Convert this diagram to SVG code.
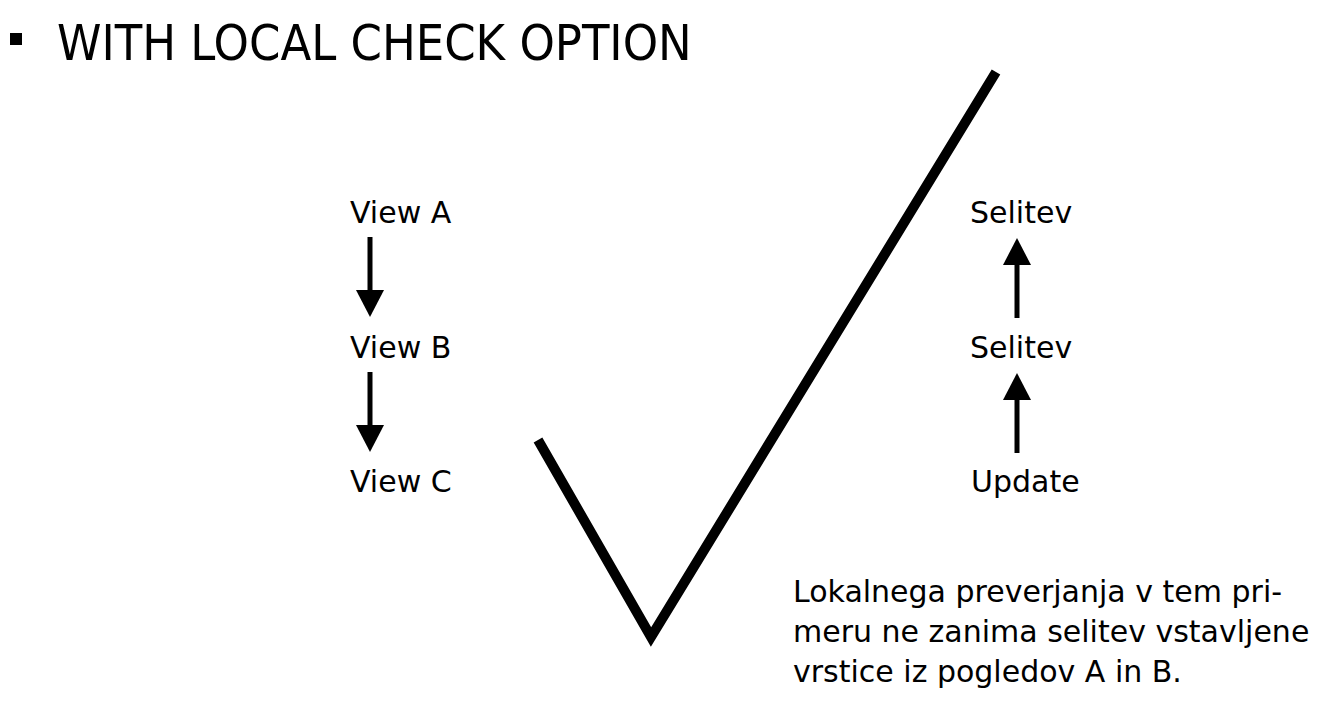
<svg xmlns="http://www.w3.org/2000/svg" width="1325" height="708" viewBox="0 0 1325 708">
<style>
.t{font-family:"DejaVu Sans","Liberation Sans",sans-serif;fill:#000}
.lbl{font-size:30px}
.ttl{font-size:50px;font-family:"DejaVu Sans Condensed","DejaVu Sans",sans-serif}
.c{stroke:#000;stroke-width:5;fill:none}
</style>
<rect x="10" y="33" width="12" height="12" fill="#000"/>
<text class="t ttl" x="57" y="60">WITH LOCAL CHECK OPTION</text>
<g id="viewA"><text class="t lbl" x="350" y="223">View A</text></g>
<g id="viewB"><text class="t lbl" x="350" y="358">View B</text></g>
<g id="viewC"><text class="t lbl" x="350" y="492">View C</text></g>
<g id="selitev1"><text class="t lbl" x="970" y="223">Selitev</text></g>
<g id="selitev2"><text class="t lbl" x="970" y="358">Selitev</text></g>
<g id="update"><text class="t lbl" x="971" y="492">Update</text></g>
<g id="connectors">
<line class="c" x1="370" y1="237" x2="370" y2="290"/><path d="M356,290L384,290L370,317Z"/>
<line class="c" x1="370" y1="372" x2="370" y2="425"/><path d="M356,425L384,425L370,452Z"/>
<line class="c" x1="1017" y1="318" x2="1017" y2="265"/><path d="M1003,265L1031,265L1017,238Z"/>
<line class="c" x1="1017" y1="453" x2="1017" y2="400"/><path d="M1003,400L1031,400L1017,373Z"/>
</g>
<polyline points="538,440 651,637 996,72" fill="none" stroke="#000" stroke-width="10"/>
<g id="note" class="t lbl">
<text x="793" y="602">Lokalnega preverjanja v tem pri-</text>
<text x="793" y="642">meru ne zanima selitev vstavljene</text>
<text x="793" y="682">vrstice iz pogledov A in B.</text>
</g>
</svg>
